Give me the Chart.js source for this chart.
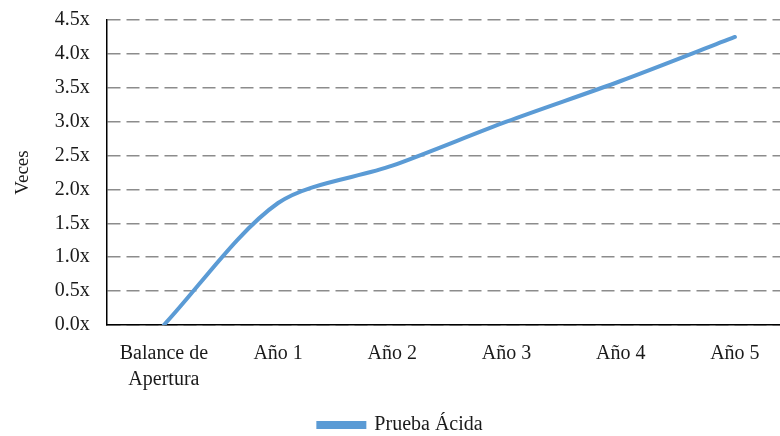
<!DOCTYPE html>
<html>
<head>
<meta charset="utf-8">
<script src="https://cdn.jsdelivr.net/npm/chart.js@4/dist/chart.umd.min.js"></script>
<style>
  html, body { margin: 0; padding: 0; background: #fff; overflow: hidden; }
  #wrap { width: 796px; height: 447px; margin-top: -9px; }
</style>
</head>
<body>
<div id="wrap"><canvas id="myChart"></canvas></div>
<script>
var labels = [['Balance de', 'Apertura'], 'Año 1', 'Año 2', 'Año 3', 'Año 4', 'Año 5'];
var pruebaAcida = [0, 1.8, 2.35, 3.0, 3.6, 4.25];
var yTicks = [0, 0.5, 1, 1.5, 2, 2.5, 3, 3.5, 4, 4.5];

var serif = 'Liberation Serif';
Chart.defaults.font.family = serif;
Chart.defaults.font.size = 20;
Chart.defaults.color = '#1a1a1a';

var ctx = document.getElementById('myChart');
var myChart = new Chart(ctx, {
  type: 'line',
  data: {
    labels: labels,
    datasets: [{
      label: 'Prueba Ácida',
      data: pruebaAcida,
      borderColor: '#5b9bd5',
      backgroundColor: '#5b9bd5',
      borderWidth: 4,
      pointRadius: 0,
      tension: 0.3,
      borderCapStyle: 'round'
    }]
  },
  options: {
    responsive: true,
    maintainAspectRatio: false,
    animation: false,
    layout: { padding: { top: 0, left: 9, right: 4, bottom: -7 } },
    plugins: {
      tooltip: { enabled: false },
      legend: {
        position: 'bottom',
        labels: {
          boxWidth: 46,
          boxHeight: 4,
          padding: 6,
          font: { family: serif, size: 20 }
        }
      }
    },
    scales: {
      x: {
        offset: true,
        grid: { display: false, drawTicks: false },
        border: { color: '#000', width: 1.5 },
        ticks: { padding: 16, maxRotation: 0, font: { size: 20, lineHeight: 1.3 } }
      },
      y: {
        min: 0,
        max: 4.5,
        afterBuildTicks: function (axis) {
          axis.ticks = yTicks.map(function (v) { return { value: v }; });
        },
        ticks: {
          padding: 17,
          font: { size: 20 },
          callback: function (v) { return v.toFixed(1) + 'x'; }
        },
        grid: { color: '#8c8c8c', lineWidth: 1.5, drawTicks: false },
        border: { color: '#000', width: 1.5, dash: [13, 6] },
        title: { display: true, text: 'Veces', font: { size: 19 }, padding: 3 }
      }
    }
  }
});
</script>
</body>
</html>
